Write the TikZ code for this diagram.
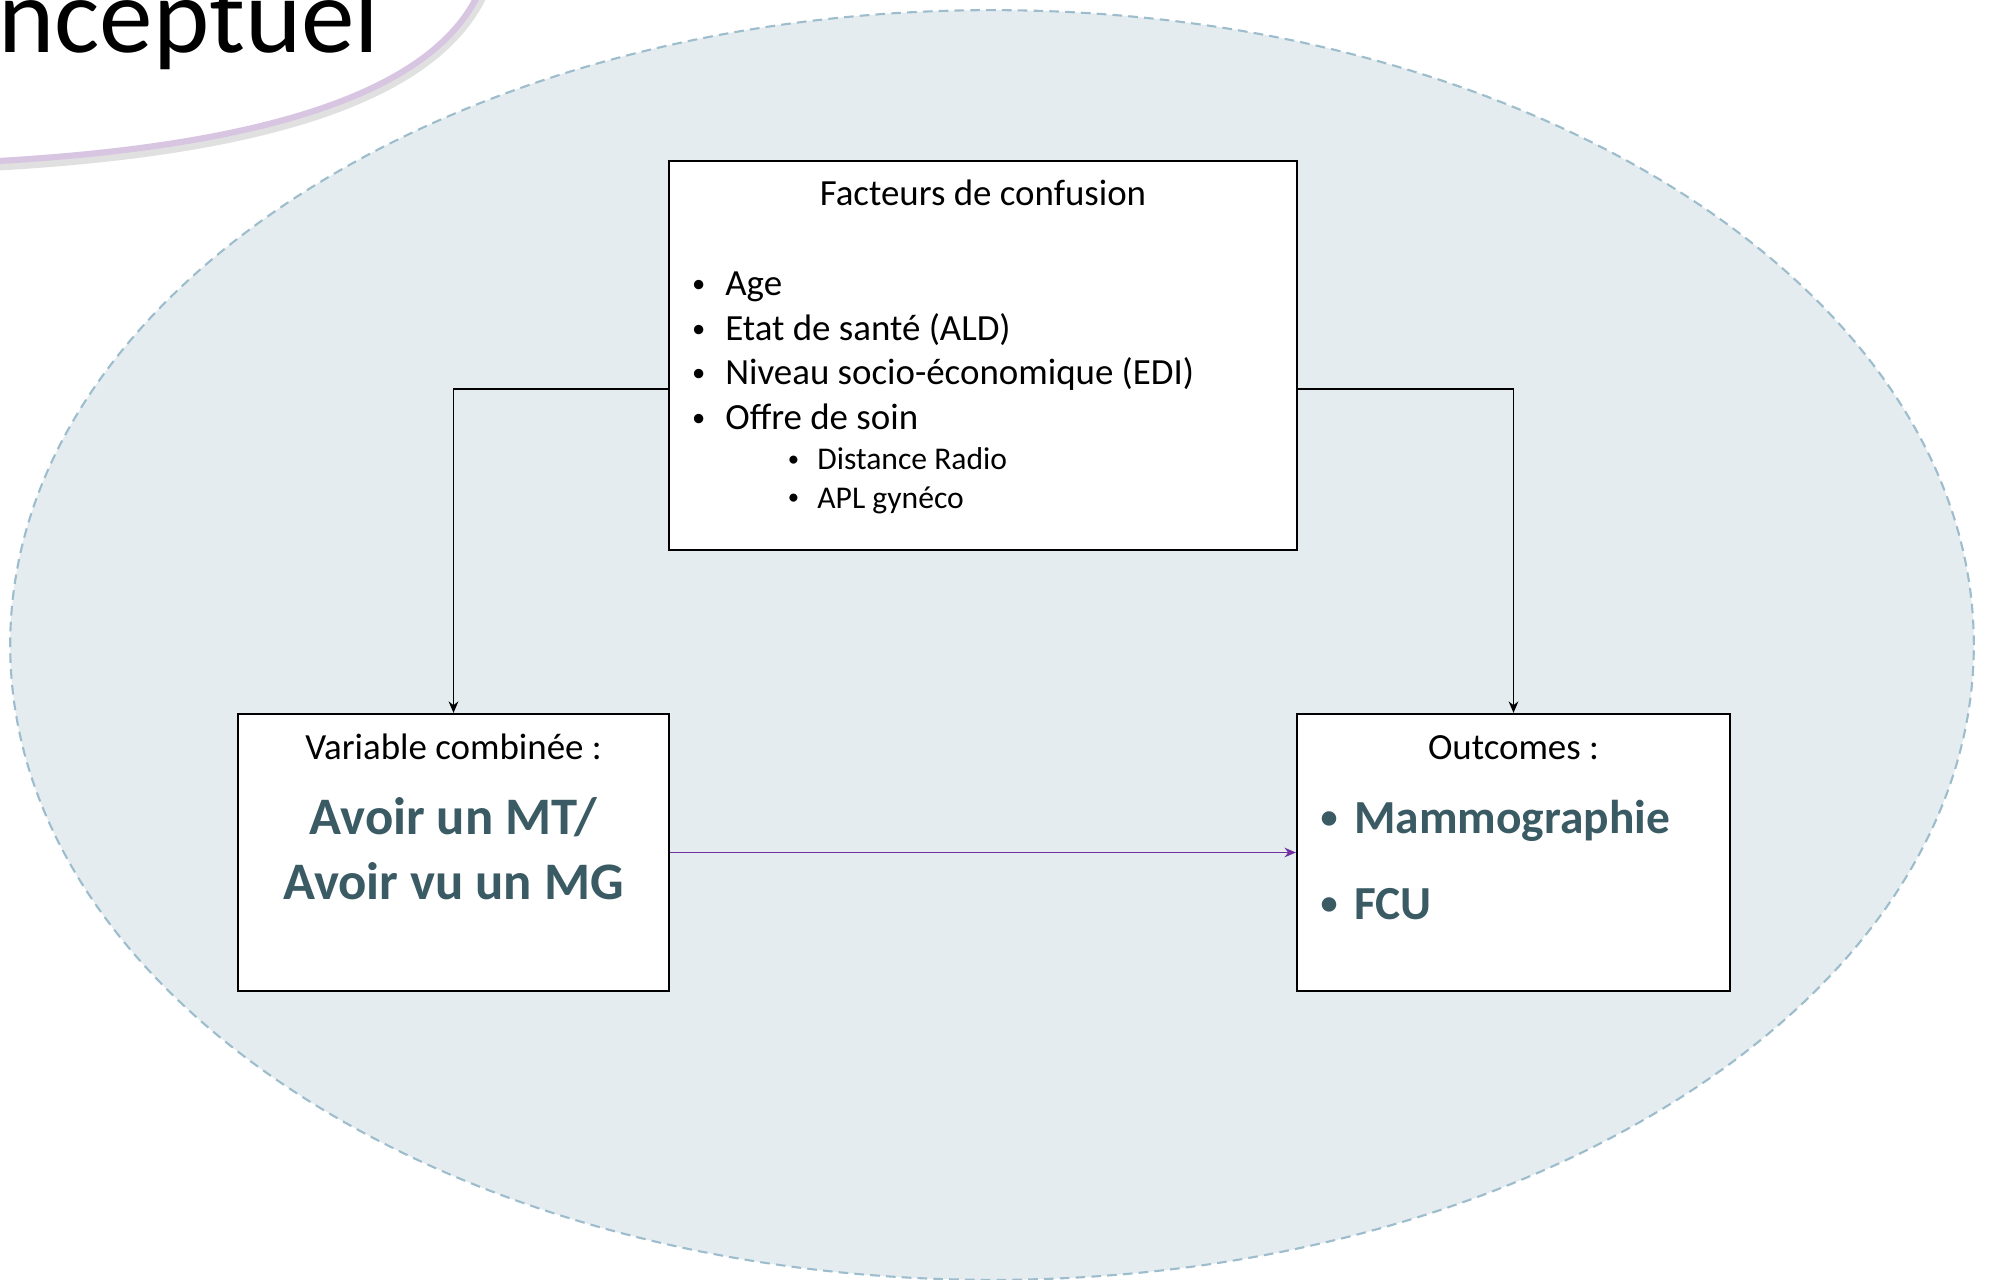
\documentclass[tikz,border=0pt]{standalone}
\usepackage{fontspec}
\setmainfont{Carlito}
\usetikzlibrary{arrows.meta}
\definecolor{fond}{HTML}{E4ECEF}
\definecolor{bord}{HTML}{9DBDCD}
\definecolor{ardoise}{HTML}{3A5A64}
\definecolor{lavande}{HTML}{D7C5E2}
\definecolor{violet}{HTML}{7030A0}
\newcommand\puce[1]{\makebox[#1][l]{\hspace{0.05em}\raisebox{0.1em}{\scalebox{0.72}{•}}}}
\tikzset{
	boite/.style={draw=black,fill=white,line width=1.3pt,inner sep=0pt},
	texte/.style={inner sep=0pt,anchor=base,font=\fontsize{21}{25}\selectfont},
	liste/.style={inner sep=0pt,anchor=base west,font=\fontsize{21}{25}\selectfont},
	sousliste/.style={inner sep=0pt,anchor=base west,font=\fontsize{18}{22}\selectfont},
	gras/.style={inner sep=0pt,text=ardoise,font=\bfseries\fontsize{30}{36.5}\selectfont},
	fleche/.style={line width=1pt,-{Stealth[length=6.5pt,width=5.5pt]}}
}
\begin{document}
\begin{tikzpicture}[x=0.02cm,y=-0.02cm]
				\useasboundingbox (0,0) rectangle (1992,1280);
				\clip (0,0) rectangle (1992,1280);
				\draw[fill=fond,draw=bord,line width=1.2pt,dash pattern=on 5.5pt off 3.5pt]
				(992,645) ellipse [x radius=19.64cm,y radius=12.7cm];
				% cartouche du titre
				\fill[white] (-20,-20) -- (-20,162) .. controls (260,148) and (445,93) .. (484,-20);
				\draw[line width=4pt,black,opacity=0.12] (-20,168) .. controls (262,154) and (449,99) .. (490,-20);
				\draw[line width=3.5pt,lavande] (-20,162) .. controls (260,148) and (445,93) .. (484,-20);
				\node[inner sep=0pt,anchor=base west,font=\fontsize{61}{72}\selectfont] (titre) at (-2,53) {nceptuel};
				\node[boite,minimum width=12.56cm,minimum height=7.78cm] (conf) at (983,355.5) {};
				\node[boite,minimum width=8.62cm,minimum height=5.54cm] (var) at (453.5,852.5) {};
				\node[boite,minimum width=8.66cm,minimum height=5.54cm] (out) at (1513.5,852.5) {};
				\node[texte] (conftitre) at (983,206) {Facteurs de confusion};
				\node[liste] (age) at (690,296) {\puce{0.7cm}Age};
				\node[liste] (etat) at (690,341) {\puce{0.7cm}Etat de santé (ALD)};
				\node[liste] (niveau) at (690,385) {\puce{0.7cm}Niveau socio-économique (EDI)};
				\node[liste] (offre) at (690,430) {\puce{0.7cm}Offre de soin};
				\node[sousliste] (radio) at (786,470) {\puce{0.62cm}Distance Radio};
				\node[sousliste] (apl) at (786,508) {\puce{0.62cm}APL gynéco};
				\node[texte] (vartitre) at (453.5,759) {Variable combinée :};
				\node[gras,anchor=base,align=center] (mt) at (453.5,899) {Avoir un MT/\\Avoir vu un MG};
				\node[texte] (outtitre) at (1513.5,759) {Outcomes :};
				\node[gras,anchor=base west,font=\bfseries\fontsize{27}{32}\selectfont] (mammo) at (1318,833) {\puce{0.72cm}Mammographie};
				\node[gras,anchor=base west,font=\bfseries\fontsize{27}{32}\selectfont] (fcu) at (1318,919) {\puce{0.72cm}FCU};
				\draw[fleche] ([yshift=-0.67cm]conf.west) -| (var.north);
				\draw[fleche] ([yshift=-0.67cm]conf.east) -| (out.north);
				\draw[fleche,violet] (var.east) -- (out.west);
\end{tikzpicture}
\end{document}
